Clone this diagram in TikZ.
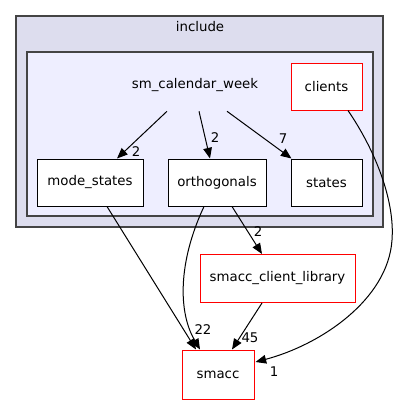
\documentclass[tikz,border=0pt]{standalone}
\usepackage{fontspec}
\setmainfont{DejaVu Sans}
\usetikzlibrary{arrows.meta,calc}
\definecolor{outerfill}{HTML}{DDDDEE}
\definecolor{innerfill}{HTML}{EEEEFF}
\definecolor{clborder}{HTML}{444444}
\newcommand{\px}{0.75pt}
\tikzset{
  dirbox/.style={draw=black, fill=white, line width=0.75pt, inner sep=0pt, minimum height={47*\px}, font=\fontsize{10}{12}\selectfont},
  extbox/.style={dirbox, draw=red},
  edge/.style={line width=0.75pt, -{Triangle[length=8pt,width=6.5pt]}},
  elabel/.style={font=\fontsize{10}{12}\selectfont, inner sep=0pt},
  cluster/.style={draw=clborder, line width=1.1pt}
}
\begin{document}
\begin{tikzpicture}[x=0.75pt,y=-0.75pt]
\useasboundingbox (0,0) rectangle (400,404);
% clusters
\draw[cluster, fill=outerfill] (16,16) rectangle (383,227);
\node[elabel] (incl) at (200,27) {include};
\draw[cluster, fill=innerfill] (27,52) rectangle (373,216);
\node[elabel, minimum height={52*\px}] (scw) at (195,85) {sm\_calendar\_week};
% nodes
\node[extbox, minimum width={71*\px}] (clients) at (326.5,86.5) {clients};
\node[dirbox, minimum width={106*\px}] (ms) at (90,182.5) {mode\_states};
\node[dirbox, minimum width={98*\px}] (orth) at (217,182.5) {orthogonals};
\node[dirbox, minimum width={71*\px}] (states) at (326.5,182.5) {states};
\node[extbox, minimum width={155*\px}, minimum height={48*\px}] (scl) at (277.5,278.5) {smacc\_client\_library};
\node[extbox, minimum width={72*\px}, minimum height={49*\px}] (smacc) at (218,374.5) {smacc};
% edges
\draw[edge] ($(scw.south)+(-28,0)$) -- ($(ms.north)+(27,0)$);
\node[elabel] (l1) at (136,152) {2};
\draw[edge] ($(scw.south)+(4,0)$) -- ($(orth.north)+(-7,0)$);
\node[elabel] (l2) at (215,138) {2};
\draw[edge] ($(scw.south)+(32,0)$) -- ($(states.north west)+(1,0)$);
\node[elabel] (l3) at (283,139) {7};
\draw[edge] ($(clients.south)+(21.5,0)$) .. controls (375,150) and (395,200) .. (392,240)
  .. controls (388,300) and (320,345) .. ($(smacc.east)+(1,-12.5)$);
\node[elabel] (l4) at (274,372) {1};
\draw[edge] ($(ms.south)+(17,0)$) -- ($(smacc.north)+(-22,0)$);
\draw[edge] ($(orth.south)+(-13,0)$) .. controls (178,262) and (178,312) .. ($(smacc.north)+(-18,0)$);
\node[elabel] (l5) at (203,330) {22};
\draw[edge] ($(orth.south)+(15,0)$) -- ($(scl.north)+(-15.5,0)$);
\node[elabel] (l6) at (258,232) {2};
\draw[edge] ($(scl.south)+(-15.5,0)$) -- ($(smacc.north)+(14,0)$);
\node[elabel] (l7) at (250,338) {45};
\end{tikzpicture}
\end{document}
